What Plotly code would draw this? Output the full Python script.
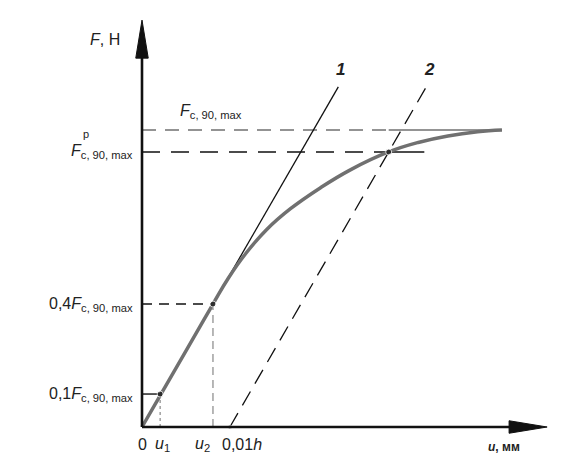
import plotly.graph_objects as go

# values (F normalised to F_c,90,max = 1)
F_max = 1.0
F_p = 0.926
F_01 = 0.111
F_04 = 0.414
u1 = 0.061
u2 = 0.239
u_h = 0.296          # 0,01h

u_curve = [0.0, 0.061, 0.150, 0.239, 0.290, 0.350, 0.420, 0.500, 0.600, 0.700, 0.830, 0.930, 1.030, 1.130, 1.212]
F_curve = [0.0, 0.106, 0.260, 0.414, 0.500, 0.585, 0.665, 0.735, 0.805, 0.865, 0.926, 0.958, 0.980, 0.994, 1.0]

F_top = 1.145        # upper end of lines 1 and 2
u_axis_end = 1.364
F_axis_end = 1.37

k = F_04 / u2        # slope of line 1 (line 2 parallel)
u_p = u_h + F_p / k  # point where line 2 meets the curve

font = "Liberation Sans, Arial, sans-serif"
black = "#111111"
grey = "#707070"

fig = go.Figure()


def seg(x, y, color=black, width=1.3, dash="solid"):
    fig.add_trace(go.Scatter(x=x, y=y, mode="lines",
                             line=dict(color=color, width=width, dash=dash),
                             hoverinfo="skip", showlegend=False))


# helper lines
seg([0, u_p], [F_max, F_max], color=grey, width=1.3, dash="14px,9px")
seg([u_p, u_curve[-1]], [F_max, F_max], color=grey, width=1.3)
seg([0, u_p], [F_p, F_p], width=1.6, dash="18px,11px")
seg([u_p, u_p + 0.12], [F_p, F_p], width=1.6)
seg([0, u2], [F_04, F_04], width=1.4, dash="10px,7px")
seg([u2, u2], [0, F_04], color=grey, width=1.0, dash="8px,5px")
seg([0, u1], [F_01, F_01], width=1.4)
seg([u1, u1], [0, F_01], color=grey, width=1.0, dash="3px,3px")

# line 1 and line 2
seg([0, F_top / k], [0, F_top], width=1.3)
seg([u_h, u_h + F_top / k], [0, F_top], width=1.3, dash="16px,9px")

# test curve
fig.add_trace(go.Scatter(x=u_curve, y=F_curve, mode="lines",
                         line=dict(color=grey, width=3.5, shape="spline", smoothing=1.2),
                         hoverinfo="skip", showlegend=False))

# points
fig.add_trace(go.Scatter(x=[u1, u2, u_p, u_h], y=[F_01, F_04, F_p, 0], mode="markers",
                         marker=dict(color=black, size=[6, 6, 6, 4]),
                         hoverinfo="skip", showlegend=False))

# axes with arrow heads
seg([0, 0], [0, F_axis_end - 0.12], width=2.6)
seg([0, u_axis_end - 0.12], [0, 0], width=2.6)
ah_len, ah_w = 0.128, 0.021
fig.add_trace(go.Scatter(x=[-ah_w, ah_w, 0, -ah_w],
                         y=[F_axis_end - ah_len, F_axis_end - ah_len, F_axis_end, F_axis_end - ah_len],
                         mode="lines", fill="toself", fillcolor=black, line=dict(color=black, width=1),
                         hoverinfo="skip", showlegend=False))
fig.add_trace(go.Scatter(x=[u_axis_end - ah_len, u_axis_end - ah_len, u_axis_end, u_axis_end - ah_len],
                         y=[-ah_w, ah_w, 0, -ah_w],
                         mode="lines", fill="toself", fillcolor=black, line=dict(color=black, width=1),
                         hoverinfo="skip", showlegend=False))


def label(x, y, text, size=16, xanchor="center", yanchor="middle"):
    fig.add_annotation(x=x, y=y, xref="x", yref="y", text=text, showarrow=False,
                       xanchor=xanchor, yanchor=yanchor,
                       font=dict(family=font, size=size, color="#222222"))


sub = "<sub>c, 90, max</sub>"
label(-0.068, 1.305, "<i>F</i>, H", size=16, xanchor="right")
label(F_top / k + 0.008, 1.205, "<b><i>1</i></b>", size=17)
label(u_h + F_top / k + 0.01, 1.205, "<b><i>2</i></b>", size=17)
label(0.12, F_max + 0.025, "<i>F</i>" + sub, size=16, xanchor="left", yanchor="bottom")
label(-0.022, F_p, "<i>F</i>" + sub, size=16, xanchor="right")
label(-0.19, F_p + 0.06, "p", size=11)
label(-0.022, F_04, "0,4<i>F</i>" + sub, size=16, xanchor="right")
label(-0.022, F_01, "0,1<i>F</i>" + sub, size=16, xanchor="right")
label(0.0, -0.06, "0", size=16)
label(u1 + 0.008, -0.06, "<i>u</i><sub>1</sub>", size=16)
label(u2 - 0.035, -0.06, "<i>u</i><sub>2</sub>", size=16)
label(u_h + 0.04, -0.06, "0,01<i>h</i>", size=16)
label(1.22, -0.068, "<b><i>u</i>, мм</b>", size=12)

# the page puts the plot 8 px in from the top-left corner, so the ranges are shifted by that
fig.update_layout(
    width=579, height=471,
    margin=dict(l=0, r=0, t=0, b=0),
    paper_bgcolor="white", plot_bgcolor="white",
    showlegend=False,
    xaxis=dict(range=[-134 / 297, 445 / 297], visible=False, fixedrange=True),
    yaxis=dict(range=[-52 / 297, 419 / 297], visible=False, fixedrange=True),
)

fig.write_html("out.html")
